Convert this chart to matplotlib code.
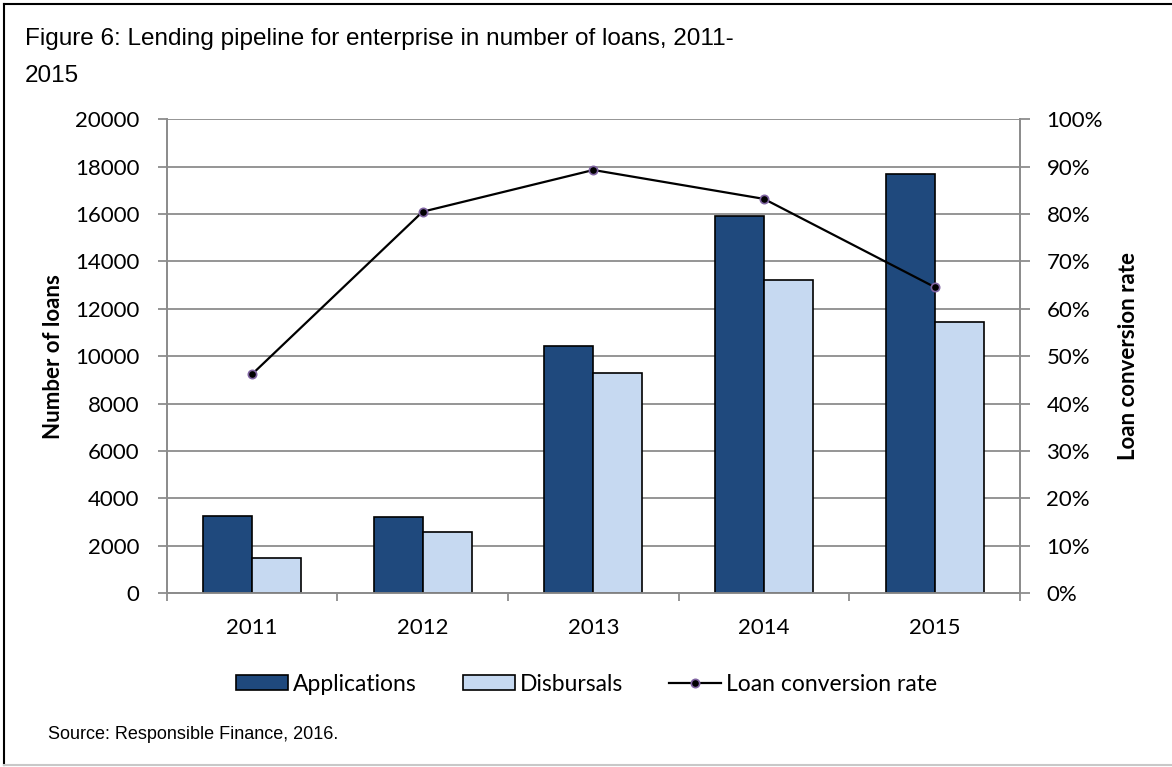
import matplotlib

matplotlib.use('Agg')
import matplotlib.pyplot as plt
import numpy as np
from matplotlib.lines import Line2D
from matplotlib.ticker import FuncFormatter

# --- data ---
years = ['2011', '2012', '2013', '2014', '2015']
applications = [3250, 3230, 10420, 15900, 17700]
disbursals = [1500, 2600, 9300, 13230, 11430]
conversion_rate = [0.462, 0.805, 0.893, 0.832, 0.646]

APP_COLOR = '#1F497D'
DIS_COLOR = '#C6D9F1'
GRID_COLOR = '#8C8C8C'
TICK_FONT = ['Lato', 'DejaVu Sans']
TITLE_FONT = ['Liberation Sans Narrow', 'Liberation Sans', 'DejaVu Sans']

fig = plt.figure(figsize=(11.72, 7.67), dpi=100)
ax = fig.add_axes([0.1422, 0.2265, 0.7281, 0.618])
ax2 = ax.twinx()

x = np.arange(len(years))
w = 0.287
b1 = ax.bar(x - w / 2, applications, w, color=APP_COLOR, edgecolor='black',
            linewidth=1.2, label='Applications', zorder=3)
b2 = ax.bar(x + w / 2, disbursals, w, color=DIS_COLOR, edgecolor='black',
            linewidth=1.2, label='Disbursals', zorder=3)
ln, = ax2.plot(x, conversion_rate, color='black', linewidth=1.6, marker='o',
               markersize=6, markerfacecolor='black', markeredgecolor='#8064A2',
               markeredgewidth=1.2, label='Loan conversion rate')

ax.set_xlim(-0.5, len(years) - 0.5)
ax.set_ylim(0, 20000)
ax2.set_ylim(0, 1.0)
ax.set_yticks(np.arange(0, 20001, 2000))
ax2.set_yticks(np.arange(0, 1.01, 0.1))
ax2.yaxis.set_major_formatter(FuncFormatter(lambda v, p: f'{v * 100:.0f}%'))

ax.yaxis.grid(True, color=GRID_COLOR, linewidth=1.3, zorder=0)
ax.set_axisbelow(True)

# category ticks between the groups, labels at group centres
ax.set_xticks(x)
ax.set_xticklabels(years)
ax.set_xticks(np.arange(-0.5, len(years), 1.0), minor=True)
ax.tick_params(axis='x', which='major', length=0, pad=18)
ax.tick_params(axis='x', which='minor', length=6, width=1.3, color=GRID_COLOR, direction='out')
ax.tick_params(axis='y', length=6.5, width=1.3, color=GRID_COLOR, direction='out', pad=13)
ax2.tick_params(axis='y', length=7, width=1.3, color=GRID_COLOR, direction='out', pad=12)

for a in (ax, ax2):
    for s in a.spines.values():
        s.set_color(GRID_COLOR)
        s.set_linewidth(1.3)
    a.spines['top'].set_visible(False)
    for lab in a.get_xticklabels() + a.get_yticklabels():
        lab.set_fontfamily(TICK_FONT)
        lab.set_fontsize(16)
        lab.set_color('black')

ax.set_ylabel('Number of loans', fontsize=16, fontweight='bold', family=TICK_FONT, labelpad=8)
ax2.set_ylabel('Loan conversion rate', fontsize=16, fontweight='bold', family=TICK_FONT, labelpad=11)

fig.text(0.021, 0.963, 'Figure 6: Lending pipeline for enterprise in number of loans, 2011-\n2015',
         fontsize=17.5, family=TITLE_FONT, va='top', ha='left', linespacing=1.85)
fig.text(0.041, 0.042, 'Source: Responsible Finance, 2016.', fontsize=13,
         family=['Liberation Sans', 'DejaVu Sans'], va='center', ha='left')

fig.legend(handles=[b1, b2, ln], loc='center', bbox_to_anchor=(0.5004, 0.108), ncol=3,
           frameon=False, prop={'family': TICK_FONT, 'size': 16.5}, handlelength=2.27,
           handletextpad=0.22, columnspacing=2.0, handleheight=0.65)

# outer frame
fig.add_artist(Line2D([0.003, 0.003], [0.002, 0.995], transform=fig.transFigure, color='black', linewidth=1.5))
fig.add_artist(Line2D([0.003, 1.0], [0.995, 0.995], transform=fig.transFigure, color='black', linewidth=1.5))
fig.add_artist(Line2D([0.003, 1.0], [0.002, 0.002], transform=fig.transFigure, color='#C8C8C8', linewidth=1.5))

fig.savefig('out.png', dpi=100)
